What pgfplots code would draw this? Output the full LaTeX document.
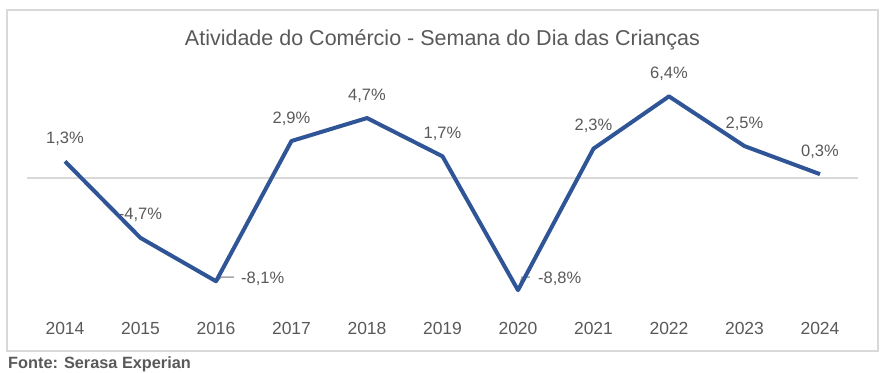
\documentclass[border=0pt]{standalone}
\usepackage{fontspec}
\setmainfont{Liberation Sans}
\usepackage{pgfplots}
\pgfplotsset{compat=1.18}
\definecolor{lineblue}{RGB}{47,85,151}
\definecolor{txtgray}{RGB}{89,89,89}
\definecolor{framegray}{RGB}{217,217,217}
\definecolor{leadgray}{RGB}{166,166,166}
\begin{document}
\begin{tikzpicture}
\begin{axis}[
  scale only axis, width=830.5bp, height=249.9bp,
  xmin=-0.5, xmax=10.5, ymin=-10.35, ymax=9.25,
  clip=false,
  axis line style={draw=none}, major tick length=0pt,
  ytick=\empty,
  xtick={0,1,2,3,4,5,6,7,8,9,10},
  xticklabels={2014,2015,2016,2017,2018,2019,2020,2021,2022,2023,2024},
  xticklabel style={font=\fontsize{17.5bp}{20bp}\selectfont, text=txtgray, anchor=base, yshift=-24.5bp},
  /pgf/number format/assume math mode=true,
  /pgf/number format/use comma,
  /pgf/number format/fixed,
  /pgf/number format/fixed zerofill,
  /pgf/number format/precision=1,
  nodes near coords={\pgfmathprintnumber{\pgfplotspointmeta}\%},
  every node near coord/.append style={font=\fontsize{16.5bp}{19bp}\selectfont, text=txtgray},
]
% invisible bounding area (880x372)
\path (axis cs:-0.861,13.96) rectangle (axis cs:10.795,-15.216);
% frame
\draw[framegray, line width=1.2bp] (axis cs:-0.768,13.18) rectangle (axis cs:10.768,-13.57);
% zero line
\draw[framegray, line width=1.2bp] (axis cs:-0.5,0) -- (axis cs:10.5,0);
% title
\node[anchor=base, text=txtgray, font=\fontsize{21.5bp}{25bp}\selectfont] at (axis cs:5,10.4) {Atividade do Comércio - Semana do Dia das Crianças};
% source
\node[anchor=base west, text=txtgray, inner sep=0pt, font=\bfseries\fontsize{16.3bp}{19bp}\selectfont] at (axis cs:-0.755,-14.98) {Fonte: Serasa Experian};
% leader lines
\draw[leadgray, line width=1.5bp] (axis cs:2,-8.1) ++(1bp,0bp) -- ++(4bp,4bp) -- ++(13bp,0bp);
\draw[leadgray, line width=1.5bp] (axis cs:6,-8.8) ++(0.5bp,1bp) -- ++(3.5bp,12bp) -- ++(8bp,0bp);
% main line
\addplot[lineblue, line width=4bp, line join=round, mark=none, nodes near coords={}] coordinates {
 (0,1.3) (1,-4.7) (2,-8.1) (3,2.9) (4,4.7) (5,1.7) (6,-8.8) (7,2.3) (8,6.4) (9,2.5) (10,0.3)
};
% labels above
\addplot[draw=none, mark=none, every node near coord/.append style={anchor=base, yshift=18bp}] coordinates {
 (0,1.3) (1,-4.7) (3,2.9) (4,4.7) (5,1.7) (7,2.3) (8,6.4) (9,2.5) (10,0.3)
};
\addplot[draw=none, mark=none, every node near coord/.append style={anchor=base west, inner xsep=0pt, xshift=25bp, yshift=-2bp}] coordinates {
 (2,-8.1)
};
\addplot[draw=none, mark=none, every node near coord/.append style={anchor=base west, inner xsep=0pt, xshift=20bp, yshift=7bp}] coordinates {
 (6,-8.8)
};
\end{axis}
\end{tikzpicture}
\end{document}
